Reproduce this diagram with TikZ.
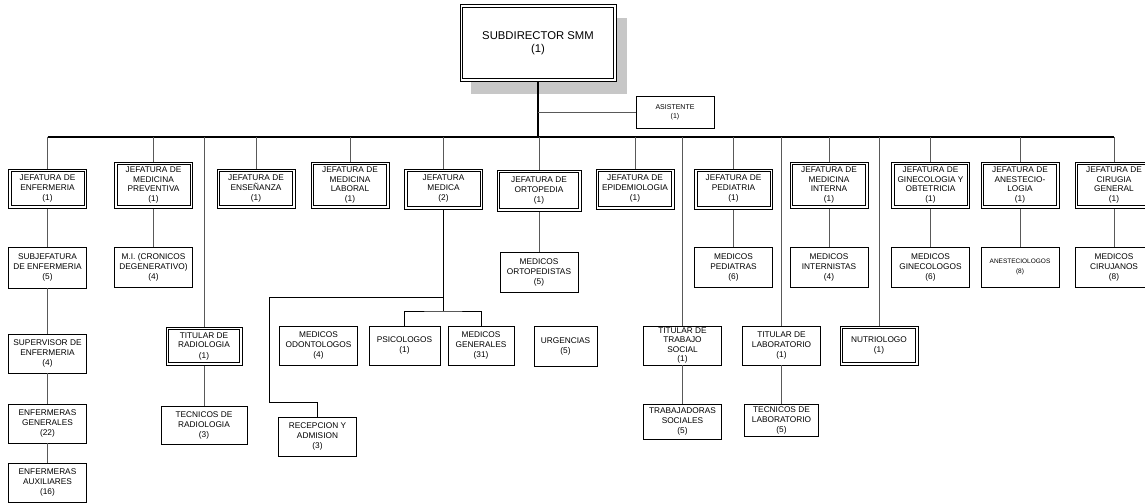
\documentclass[tikz,border=0pt]{standalone}
\usepackage{fontspec}
\setmainfont{Liberation Sans}
\usetikzlibrary{shadows}

\begin{document}
\begin{tikzpicture}[x=1pt,y=-1pt]

\tikzset{
  blk/.style  = {draw, line width=0.6pt, fill=white, inner sep=1pt, align=center,
                 minimum width=78pt, minimum height=39pt,
                 font=\fontsize{8.3}{10}\selectfont},
  hd/.style   = {blk, line width=1pt, minimum width=78pt, minimum height=39pt,
                 path picture={\draw[line width=0.6pt]
                   ([shift={(2.3pt,-2.3pt)}]path picture bounding box.north west) rectangle
                   ([shift={(-2.3pt,2.3pt)}]path picture bounding box.south east);}},
  tall/.style = {minimum height=46pt, font=\fontsize{8.3}{9.4}\selectfont},
  link/.style = {line width=0.8pt, draw=black!65},
  trunk/.style= {line width=1.3pt, draw=black},
}

\useasboundingbox (0,0) rectangle (1145,503);

% top
\node[hd, minimum width=156pt, minimum height=76pt, font=\fontsize{11.3}{13.5}\selectfont,
      drop shadow={shadow xshift=11pt, shadow yshift=-13pt, fill=black!22, opacity=1}]
      (sub) at (538,43) {SUBDIRECTOR SMM\\(1)};
\node[blk, minimum height=32pt, font=\fontsize{7}{9}\selectfont] (asis) at (675,112) {ASISTENTE\\(1)};

% jefaturas
\node[hd] (jenf) at (47.5,188.5) {JEFATURA DE\\ENFERMERIA\\(1)};
\node[hd, tall] (jprev) at (153.5,185) {JEFATURA DE\\MEDICINA\\PREVENTIVA\\(1)};
\node[hd] (jens) at (256,188.5) {JEFATURA DE\\ENSEÑANZA\\(1)};
\node[hd, tall] (jlab) at (350,185) {JEFATURA DE\\MEDICINA\\LABORAL\\(1)};
\node[hd, minimum height=40pt] (jmed) at (443.5,189) {JEFATURA\\MEDICA\\(2)};
\node[hd, minimum width=84pt, minimum height=41pt] (jort) at (539,190.5) {JEFATURA DE\\ORTOPEDIA\\(1)};
\node[hd, minimum height=40pt] (jepi) at (635,189) {JEFATURA DE\\EPIDEMIOLOGIA\\(1)};
\node[hd, minimum height=40pt] (jped) at (733.5,189) {JEFATURA DE\\PEDIATRIA\\(1)};
\node[hd, tall] (jint) at (829,185) {JEFATURA DE\\MEDICINA\\INTERNA\\(1)};
\node[hd, tall] (jgin) at (930.5,185) {JEFATURA DE\\GINECOLOGIA Y\\OBTETRICIA\\(1)};
\node[hd, tall] (jane) at (1020,185) {JEFATURA DE\\ANESTECIO-\\LOGIA\\(1)};
\node[hd, tall] (jcir) at (1114,185) {JEFATURA DE\\CIRUGIA\\GENERAL\\(1)};

% second level
\node[blk, minimum height=41pt] (subj) at (47.5,267.5) {SUBJEFATURA\\DE ENFERMERIA\\(5)};
\node[blk, minimum height=40pt] (mi) at (153.5,267) {M.I. (CRONICOS\\DEGENERATIVO)\\(4)};
\node[blk, minimum height=40pt] (mort) at (539,272) {MEDICOS\\ORTOPEDISTAS\\(5)};
\node[blk, minimum height=40pt] (mped) at (733.5,267) {MEDICOS\\PEDIATRAS\\(6)};
\node[blk, minimum height=40pt] (mint) at (829,267) {MEDICOS\\INTERNISTAS\\(4)};
\node[blk, minimum height=40pt] (mgin) at (930.5,267) {MEDICOS\\GINECOLOGOS\\(6)};
\node[blk, minimum height=40pt, font=\fontsize{6.5}{10}\selectfont] (mane) at (1020,267) {ANESTECIOLOGOS\\(8)};
\node[blk, minimum height=40pt] (mcir) at (1114,267) {MEDICOS\\CIRUJANOS\\(8)};

% third level
\node[blk] (sup) at (47.5,353.5) {SUPERVISOR DE\\ENFERMERIA\\(4)};
\node[hd, minimum width=76pt, minimum height=38pt] (trad) at (204,346) {TITULAR DE\\RADIOLOGIA\\(1)};
\node[blk] (odo) at (318.5,345.5) {MEDICOS\\ODONTOLOGOS\\(4)};
\node[blk, minimum width=71pt] (psi) at (404.5,345.5) {PSICOLOGOS\\(1)};
\node[blk, minimum width=66pt] (mgen) at (481,345.5) {MEDICOS\\GENERALES\\(31)};
\node[blk, minimum width=63pt, minimum height=40pt] (urg) at (565.5,346) {URGENCIAS\\(5)};
\node[blk, font=\fontsize{8.3}{9.6}\selectfont] (tts) at (682.5,345.5) {TITULAR DE\\TRABAJO\\SOCIAL\\(1)};
\node[blk] (tlab) at (781.5,345.5) {TITULAR DE\\LABORATORIO\\(1)};
\node[hd] (nut) at (879,345.5) {NUTRIOLOGO\\(1)};

% fourth level
\node[blk] (egen) at (47.5,423.5) {ENFERMERAS\\GENERALES\\(22)};
\node[blk, minimum width=86pt, minimum height=38pt] (tecrad) at (204,425) {TECNICOS DE\\RADIOLOGIA\\(3)};
\node[blk] (rec) at (317.5,436.5) {RECEPCION Y\\ADMISION\\(3)};
\node[blk, minimum height=35pt] (tsoc) at (682.5,421.5) {TRABAJADORAS\\SOCIALES\\(5)};
\node[blk, minimum width=74pt, minimum height=32pt] (tclab) at (781.5,420) {TECNICOS DE\\LABORATORIO\\(5)};
\node[blk] (eaux) at (47.5,482.5) {ENFERMERAS\\AUXILIARES\\(16)};

% connectors
\coordinate (busy) at (0,137);
\draw[trunk] (sub.south) -- (sub.south |- busy);
\draw[link] (sub.south |- asis.west) -- (asis.west);
\draw[trunk] (jenf.north |- busy) -- (jcir.north |- busy);
\foreach \n in {jenf,jprev,trad,jens,jlab,jmed,jort,jepi,tts,jped,tlab,jint,nut,jgin,jane,jcir}
  \draw[link] (\n.north) -- (\n.north |- busy);
\foreach \a/\b in {jenf/subj,subj/sup,sup/egen,egen/eaux,jprev/mi,trad/tecrad,jort/mort,
                   jped/mped,tts/tsoc,tlab/tclab,jint/mint,jgin/mgin,jane/mane,jcir/mcir}
  \draw[link] (\a.south) -- (\b.north);

\coordinate (mfork) at (443.5,297);
\coordinate (mtee) at (443.5,311);
\coordinate (mknee) at (269,402);
\draw[link, draw=black] (jmed.south) -- (mtee);
\draw[link, draw=black] (psi.north) |- (mtee) -| (mgen.north);
\draw[link, draw=black] (mfork) -| (mknee) -| (rec.north);
\end{tikzpicture}
\end{document}
